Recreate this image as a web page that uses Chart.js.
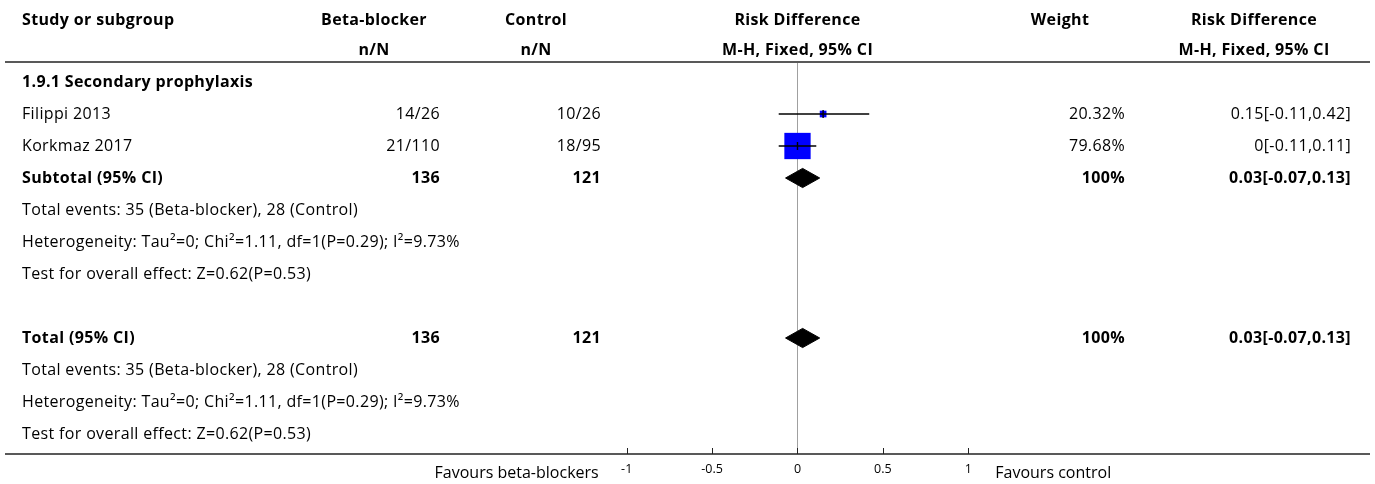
<!DOCTYPE html>
<html>
<head>
<meta charset="utf-8">
<script src="https://cdn.jsdelivr.net/npm/chart.js@4.4.0/dist/chart.umd.min.js"></script>
<style>
html, body { margin: 0; background: #fff; overflow: hidden; }
canvas { display: block; }
</style>
</head>
<body>
<canvas id="myChart" width="1375" height="484" style="width:1375px;height:484px"></canvas>
<script>
// study data
var studies = ['Filippi 2013', 'Korkmaz 2017'];
var bbEvents = [14, 21];
var bbTotal = [26, 110];
var ctrlEvents = [10, 18];
var ctrlTotal = [26, 95];
var rd = [0.15, 0];
var rdLow = [-0.11, -0.11];
var rdHigh = [0.42, 0.11];
var weights = [20.32, 79.68];

// pooled results
var pooledRd = [0.03, 0.03];
var pooledLow = [-0.07, -0.07];
var pooledHigh = [0.13, 0.13];
var pooledBb = [136, 136];
var pooledCtrl = [121, 121];
var pooledWeight = [100, 100];
var pooledLabels = ['Subtotal (95% CI)', 'Total (95% CI)'];

var subgroupTitle = '1.9.1 Secondary prophylaxis';
var eventsText = 'Total events: 35 (Beta-blocker), 28 (Control)';
var hetText = 'Heterogeneity: Tau\u00b2=0; Chi\u00b2=1.11, df=1(P=0.29); I\u00b2=9.73%';
var effectText = 'Test for overall effect: Z=0.62(P=0.53)';

var tickValues = [-1, -0.5, 0, 0.5, 1];
var favourLeft = 'Favours beta-blockers';
var favourRight = 'Favours control';

// row numbers in the table
var studyRows = [1, 2];
var pooledRows = [3, 8];

var FONT = '"Open Sans", sans-serif';
var fontSize = 16;
var diamondHalf = 0.3;

function fmt(v, l, h) { return v + '[' + l + ',' + h + ']'; }

var datasets = [];
// CI lines (drawn on top)
for (var i = 0; i < studies.length; i++) {
  datasets.push({
    type: 'scatter', showLine: true, order: 1,
    data: [{x: rdLow[i], y: studyRows[i]}, {x: rdHigh[i], y: studyRows[i]}],
    borderColor: '#000', borderWidth: 1.4, pointRadius: 0
  });
}
// little vertical mark at the estimate
datasets.push({
  type: 'scatter', order: 1,
  data: studies.map(function (s, i) { return {x: rd[i], y: studyRows[i]}; }),
  pointStyle: 'line', rotation: 90, pointRadius: 4,
  borderColor: '#000', borderWidth: 1.4
});
// weighted squares
datasets.push({
  type: 'scatter', order: 2,
  data: studies.map(function (s, i) { return {x: rd[i], y: studyRows[i]}; }),
  pointStyle: 'rect',
  pointRadius: weights.map(function (w) { return w * 0.33 / Math.SQRT2; }),
  backgroundColor: '#0000ff', borderWidth: 0
});
// diamonds
for (var j = 0; j < pooledRows.length; j++) {
  var r = pooledRows[j];
  datasets.push({
    type: 'scatter', showLine: true, order: 3, fill: 'shape',
    data: [
      {x: pooledLow[j], y: r}, {x: pooledRd[j], y: r - diamondHalf},
      {x: pooledHigh[j], y: r}, {x: pooledRd[j], y: r + diamondHalf},
      {x: pooledLow[j], y: r}
    ],
    borderColor: '#000', backgroundColor: '#000', borderWidth: 1, pointRadius: 0, tension: 0
  });
}

var tablePlugin = {
  id: 'table',
  beforeDatasetsDraw: function (chart) {
    var ctx = chart.ctx, a = chart.chartArea;
    var xs = chart.scales.x;
    ctx.save();
    // zero line
    ctx.strokeStyle = '#a0a0a0';
    ctx.lineWidth = 1;
    var x0 = Math.round(xs.getPixelForValue(0)) + 0.5;
    ctx.beginPath(); ctx.moveTo(x0, a.top); ctx.lineTo(x0, a.bottom); ctx.stroke();
    // header and bottom rules
    ctx.strokeStyle = '#222';
    ctx.lineWidth = 1.5;
    ctx.beginPath(); ctx.moveTo(a.left, a.top - 1); ctx.lineTo(a.right, a.top - 1); ctx.stroke();
    ctx.beginPath(); ctx.moveTo(a.left, a.bottom); ctx.lineTo(a.right, a.bottom); ctx.stroke();
    // tick marks
    ctx.lineWidth = 1;
    tickValues.forEach(function (t) {
      var px = Math.round(xs.getPixelForValue(t)) + 0.5;
      ctx.beginPath(); ctx.moveTo(px, a.bottom - 6); ctx.lineTo(px, a.bottom); ctx.stroke();
    });
    ctx.restore();
  },
  afterDraw: function (chart) {
    var ctx = chart.ctx, a = chart.chartArea;
    var xs = chart.scales.x, ys = chart.scales.y;
    var mid = xs.getPixelForValue(0);
    function txt(s, x, y, align, bold, size) {
      ctx.font = (bold ? 'bold ' : '') + (size || fontSize) + 'px ' + FONT;
      ctx.letterSpacing = size ? '0px' : '0.35px';
      ctx.textAlign = align;
      ctx.fillText(s, x, y);
    }
    ctx.save();
    ctx.fillStyle = '#000';
    ctx.textBaseline = 'middle';
    // headers
    txt('Study or subgroup', 22, 20, 'left', true);
    txt('Beta-blocker', 374, 20, 'center', true);
    txt('n/N', 374, 50, 'center', true);
    txt('Control', 536, 20, 'center', true);
    txt('n/N', 536, 50, 'center', true);
    txt('Risk Difference', mid, 20, 'center', true);
    txt('M-H, Fixed, 95% CI', mid, 50, 'center', true);
    txt('Weight', 1060, 20, 'center', true);
    txt('Risk Difference', 1254, 20, 'center', true);
    txt('M-H, Fixed, 95% CI', 1254, 50, 'center', true);

    txt(subgroupTitle, 22, ys.getPixelForValue(0), 'left', true);
    for (var i = 0; i < studies.length; i++) {
      var y = ys.getPixelForValue(studyRows[i]);
      txt(studies[i], 22, y, 'left');
      txt(bbEvents[i] + '/' + bbTotal[i], 440, y, 'right');
      txt(ctrlEvents[i] + '/' + ctrlTotal[i], 601, y, 'right');
      txt(weights[i].toFixed(2) + '%', 1125, y, 'right');
      txt(fmt(rd[i], rdLow[i], rdHigh[i]), 1351, y, 'right');
    }
    for (var j = 0; j < pooledRows.length; j++) {
      var r = pooledRows[j];
      var py = ys.getPixelForValue(r);
      txt(pooledLabels[j], 22, py, 'left', true);
      txt(String(pooledBb[j]), 440, py, 'right', true);
      txt(String(pooledCtrl[j]), 601, py, 'right', true);
      txt(pooledWeight[j] + '%', 1125, py, 'right', true);
      txt(fmt(pooledRd[j], pooledLow[j], pooledHigh[j]), 1351, py, 'right', true);
      txt(eventsText, 22, ys.getPixelForValue(r + 1), 'left');
      txt(hetText, 22, ys.getPixelForValue(r + 2), 'left');
      txt(effectText, 22, ys.getPixelForValue(r + 3), 'left');
    }
    // axis labels
    tickValues.forEach(function (t) {
      txt(String(t), xs.getPixelForValue(t), a.bottom + 15, 'center', false, 12.5);
    });
    txt(favourLeft, xs.getPixelForValue(-1) - 28, a.bottom + 19, 'right', false, 16);
    txt(favourRight, xs.getPixelForValue(1) + 27, a.bottom + 19, 'left', false, 16);
    ctx.restore();
  }
};

new Chart('myChart', {
  data: { datasets: datasets },
  options: {
    responsive: false,
    animation: false,
    layout: { autoPadding: false, padding: { left: 5, right: 5, top: 63, bottom: 30 } },
    plugins: { legend: { display: false }, tooltip: { enabled: false } },
    scales: {
      x: { type: 'linear', min: -4.6399, max: 3.3519, display: false },
      y: { type: 'linear', min: -0.59375, max: 11.625, reverse: true, display: false }
    }
  },
  plugins: [tablePlugin]
});
</script>
</body>
</html>
